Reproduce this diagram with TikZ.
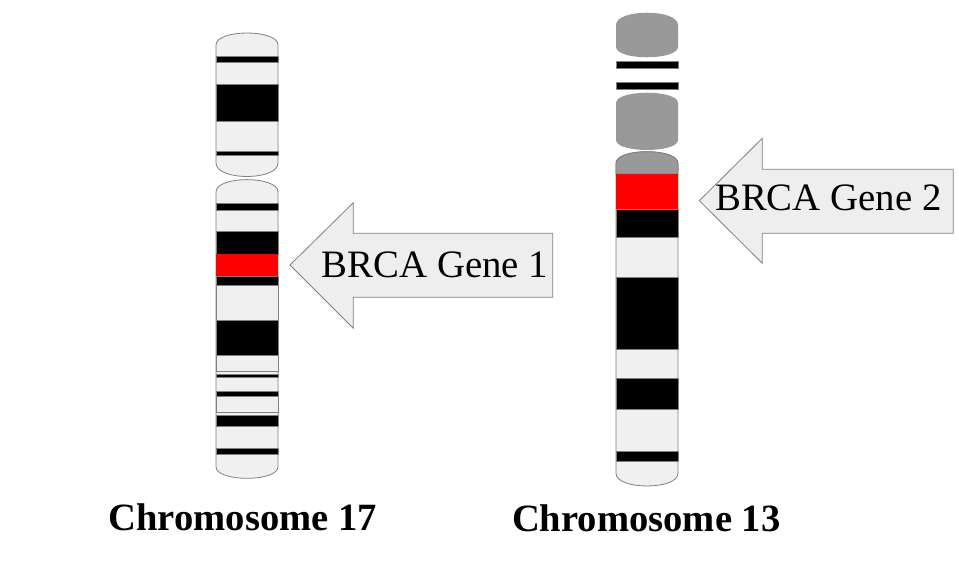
\documentclass[tikz,border=0pt]{standalone}
\usepackage{fontspec}
\setmainfont{Liberation Serif}
\definecolor{bandlight}{RGB}{240,240,240}
\definecolor{bandline}{RGB}{128,128,128}
\definecolor{capgrey}{RGB}{153,153,153}
\definecolor{arrowfill}{RGB}{238,238,238}
\tikzset{
  lightband/.style={fill=bandlight,draw=bandline,line width=0.8pt},
  darkband/.style={fill=black,draw=bandline,line width=0.8pt},
  redband/.style={fill=red},
  capband/.style={fill=capgrey,draw=bandline,line width=0.8pt},
  genearrow/.style={fill=arrowfill,draw=bandline,line width=0.8pt,line join=miter},
  genelabel/.style={anchor=base,inner sep=0pt,font=\fontsize{38.8}{40}\selectfont},
  chromlabel/.style={anchor=base,inner sep=0pt,font=\fontsize{38.6}{40}\selectfont\bfseries}
}

\begin{document}
\begin{tikzpicture}[x=1pt,y=-1pt]
	\useasboundingbox (0,0) rectangle (959,565);
	\draw[lightband] (216,163) -- (216,45) .. controls (216,29) and (278,29) .. (278,45) -- (278,163) .. controls (278,181) and (216,181) .. (216,163) -- cycle;
	\foreach \t/\b in {56.7/62.3, 84.3/121.7, 151/155} \draw[darkband] (216,\t) rectangle (278,\b);
	\draw[lightband] (216,466.7) -- (216,192) .. controls (216,175.5) and (278,175.5) .. (278,192) -- (278,466.7) .. controls (278,482.2) and (216,482.2) .. (216,466.7) -- cycle;
	\foreach \t/\b in {285/320.7, 355/371, 396/412.7} \draw[lightband] (216,\t) rectangle (278,\b);
	\foreach \t/\b in {203.3/210, 231.7/254.3, 276/285, 320.7/355, 374.3/377.3, 391/396, 415/426.7, 448.3/454} \draw[darkband] (216,\t) rectangle (278,\b);
	\fill[redband] (216,254.3) rectangle (278,276);
	\fill[capgrey] (616,46.7) -- (616,25) .. controls (616,8.6) and (678,8.6) .. (678,25) -- (678,46.7) .. controls (678,60.8) and (616,60.8) .. (616,46.7) -- cycle;
	\fill[capgrey] (616,140) -- (616,103) .. controls (616,89.3) and (678,89.3) .. (678,103) -- (678,140) .. controls (678,153.3) and (616,153.3) .. (616,140) -- cycle;
	\foreach \t/\b in {61.7/68.3, 82.3/89} \draw[darkband] (616,\t) rectangle (678,\b);
	\draw[lightband] (616,473.3) -- (616,163.3) .. controls (616,147.8) and (678,147.8) .. (678,163.3) -- (678,473.3) .. controls (678,490.2) and (616,490.2) .. (616,473.3) -- cycle;
	\draw[capband] (616,174) -- (616,163.3) .. controls (616,147.8) and (678,147.8) .. (678,163.3) -- (678,174) -- cycle;
	\foreach \t/\b in {209.3/237.7, 277.5/349, 378.3/409, 451.7/461} \draw[darkband] (616,\t) rectangle (678,\b);
	\fill[redband] (616,174) rectangle (678,209.3);
	\draw[genearrow] (290,265) -- (353.3,202.7) -- (353.3,233.3) -- (552.7,233.3) -- (552.7,297.3) -- (353.3,297.3) -- (353.3,328.3) -- cycle;
	\draw[genearrow] (699.3,200.7) -- (762.3,138.3) -- (762.3,169.3) -- (953.3,169.3) -- (953.3,233.3) -- (762.3,233.3) -- (762.3,263.3) -- cycle;
	\node[genelabel] (gene1) at (435,277.3) {BRCA Gene 1};
	\node[genelabel] (gene2) at (828.3,210) {BRCA Gene 2};
	\node[chromlabel] (chrom17) at (242.8,530) {Chromosome 17};
	\node[chromlabel] (chrom13) at (646.3,531.7) {Chromosome 13};
\end{tikzpicture}
\end{document}
